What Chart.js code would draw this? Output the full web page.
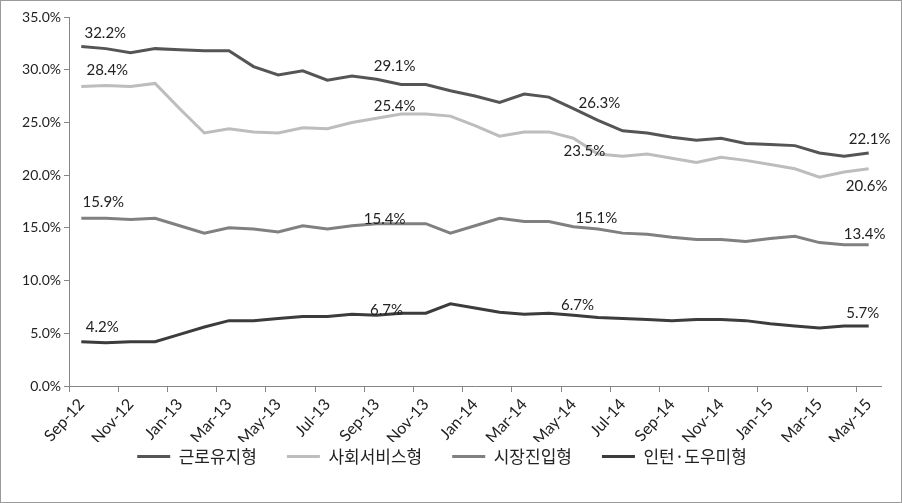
<!DOCTYPE html>
<html>
<head>
<meta charset="utf-8">
<script src="https://cdn.jsdelivr.net/npm/chart.js@4"></script>
<style>
body { margin: 0; background: #fff; }
#wrap { width: 900px; height: 501px; border: 1px solid #9a9a9a; position: relative; }
</style>
</head>
<body>
<div id="wrap"><canvas id="Chart"></canvas></div>
<script>
//monthly categories, only every second one gets a tick label
var months = ['Sep-12', 'Oct-12', 'Nov-12', 'Dec-12', 'Jan-13', 'Feb-13', 'Mar-13', 'Apr-13', 'May-13', 'Jun-13', 'Jul-13',
    'Aug-13', 'Sep-13', 'Oct-13', 'Nov-13', 'Dec-13', 'Jan-14', 'Feb-14', 'Mar-14', 'Apr-14', 'May-14', 'Jun-14', 'Jul-14',
    'Aug-14', 'Sep-14', 'Oct-14', 'Nov-14', 'Dec-14', 'Jan-15', 'Feb-15', 'Mar-15', 'Apr-15', 'May-15'];
var seriesNames = ['근로유지형', '사회서비스형', '시장진입형', '인턴·도우미형'];
//share of each type in %
var keepWork = [32.2, 32.0, 31.6, 32.0, 31.9, 31.8, 31.8, 30.3, 29.5, 29.9, 29.0, 29.4, 29.1, 28.6, 28.6, 28.0, 27.5,
    26.9, 27.7, 27.4, 26.3, 25.2, 24.2, 24.0, 23.6, 23.3, 23.5, 23.0, 22.9, 22.8, 22.1, 21.8, 22.1];
var socialService = [28.4, 28.5, 28.4, 28.7, 26.3, 24.0, 24.4, 24.1, 24.0, 24.5, 24.4, 25.0, 25.4, 25.8, 25.8, 25.6, 24.7,
    23.7, 24.1, 24.1, 23.5, 22.0, 21.8, 22.0, 21.6, 21.2, 21.7, 21.4, 21.0, 20.6, 19.8, 20.3, 20.6];
var marketEntry = [15.9, 15.9, 15.8, 15.9, 15.2, 14.5, 15.0, 14.9, 14.6, 15.2, 14.9, 15.2, 15.4, 15.4, 15.4, 14.5, 15.2,
    15.9, 15.6, 15.6, 15.1, 14.9, 14.5, 14.4, 14.1, 13.9, 13.9, 13.7, 14.0, 14.2, 13.6, 13.4, 13.4];
var internHelper = [4.2, 4.1, 4.2, 4.2, 4.9, 5.6, 6.2, 6.2, 6.4, 6.6, 6.6, 6.8, 6.7, 6.9, 6.9, 7.8, 7.4,
    7.0, 6.8, 6.9, 6.7, 6.5, 6.4, 6.3, 6.2, 6.3, 6.3, 6.2, 5.9, 5.7, 5.5, 5.7, 5.7];
//the points that carry a value label
var labelAt = [0, 12, 20, 32];
var yTicks = [0, 5, 10, 15, 20, 25, 30, 35];

var lineColours = ['#555555', '#bdbdbd', '#808080', '#3c3c3c'];
var allSeries = [keepWork, socialService, marketEntry, internHelper];

//offset of each value label centre from its point, per series, in labelAt order
var labelShift = [
    [[24, -13], [18, -13], [26, -6], [1, -14]],
    [[26, -16], [18, -12], [11, 13], [-2, 17]],
    [[22, -16], [8, -4], [23, -9], [-4, -11]],
    [[21, -15], [10, -5], [4, -10], [-6, -13]]
];

var valueLabels = {
    id: 'valueLabels',
    afterDatasetsDraw: function (chart) {
        var c = chart.ctx;
        c.save();
        c.font = '15px Lato';
        c.fillStyle = '#222';
        c.textAlign = 'center';
        c.textBaseline = 'middle';
        chart.data.datasets.forEach(function (ds, d) {
            var meta = chart.getDatasetMeta(d);
            labelAt.forEach(function (idx, k) {
                var p = meta.data[idx];
                c.fillText(ds.data[idx].toFixed(1) + '%', p.x + labelShift[d][k][0], p.y + labelShift[d][k][1]);
            });
        });
        c.restore();
    }
};

//legend padding gives the wide gaps between items, so pull the whole box up under the month labels
var legendLift = {
    id: 'legendLift',
    afterLayout: function (chart) {
        chart.legend.top -= 24;
        chart.legend.bottom -= 24;
    }
};

var axisGrey = '#868686';
var ctx = document.getElementById('Chart').getContext('2d');
var chart = new Chart(ctx, {
    type: 'line',
    data: {
        labels: months,
        datasets: allSeries.map(function (s, i) {
            return {
                label: seriesNames[i],
                data: s,
                borderColor: lineColours[i],
                backgroundColor: lineColours[i],
                borderWidth: 3,
                pointRadius: 0,
                tension: 0,
                fill: false
            };
        })
    },
    options: {
        responsive: true,
        maintainAspectRatio: false,
        animation: false,
        layout: { padding: { top: 16, right: 20, left: 2, bottom: 3 } },
        plugins: {
            tooltip: { enabled: false },
            legend: {
                position: 'bottom',
                labels: {
                    usePointStyle: true,
                    pointStyle: 'line',
                    pointStyleWidth: 33,
                    boxHeight: 4,
                    padding: 30,
                    color: '#222',
                    font: { family: 'Noto Sans CJK KR', size: 17 }
                }
            }
        },
        scales: {
            x: {
                offset: true,
                grid: {
                    offset: true,
                    drawOnChartArea: false,
                    tickLength: 6,
                    tickColor: function (c) { return c.index % 2 === 0 ? axisGrey : 'rgba(0,0,0,0)'; }
                },
                border: { color: axisGrey },
                ticks: {
                    autoSkip: false,
                    minRotation: 48,
                    maxRotation: 48,
                    color: '#222',
                    font: { family: 'Lato', size: 16 },
                    callback: function (v, i) { return i % 2 === 0 ? this.getLabelForValue(v) : ''; }
                },
                afterFit: function (s) { s.height = 56; }
            },
            y: {
                min: 0,
                max: 35,
                afterBuildTicks: function (s) { s.ticks = yTicks.map(function (v) { return { value: v }; }); },
                grid: { drawOnChartArea: false, tickLength: 5, tickColor: axisGrey },
                border: { color: axisGrey },
                ticks: {
                    color: '#222',
                    font: { family: 'Lato', size: 14 },
                    callback: function (v) { return v.toFixed(1) + '%'; }
                },
                afterFit: function (s) { s.width = 66; }
            }
        }
    },
    plugins: [valueLabels, legendLift]
});
</script>
</body>
</html>
